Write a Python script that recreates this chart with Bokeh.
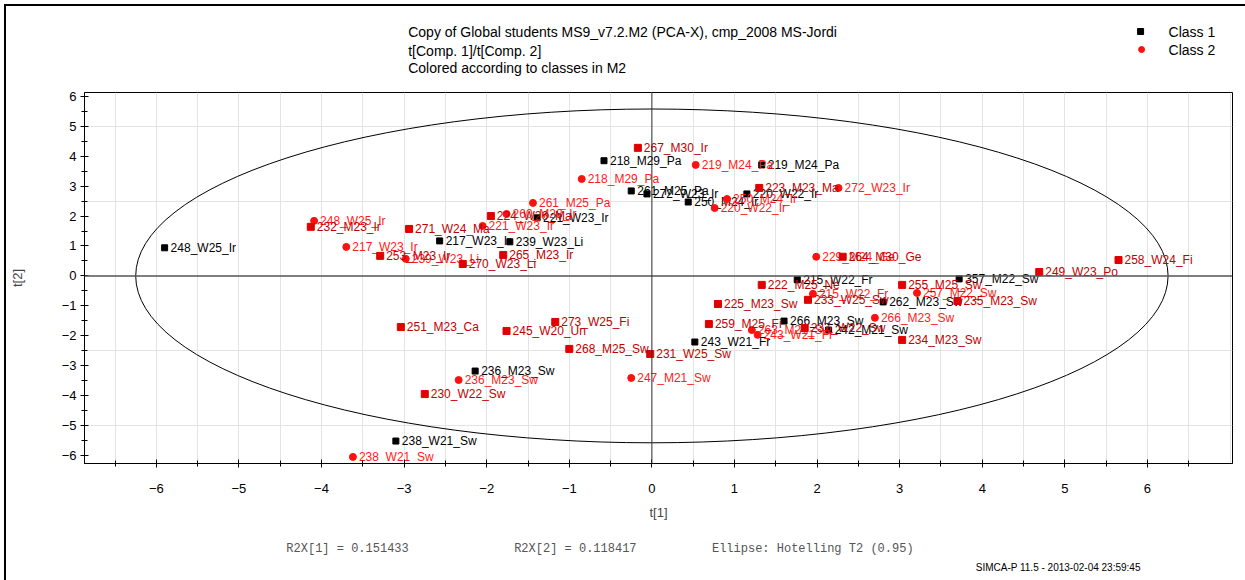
from bokeh.plotting import figure
from bokeh.layouts import column
from bokeh.models import (ColumnDataSource, Span, SingleIntervalTicker,
                          FixedTicker, Range1d)
from bokeh.core.properties import value
from bokeh.embed import file_html
from bokeh.resources import INLINE

# ---------------- data ----------------
names1 = ["248_W25_Ir", "218_M29_Pa", "219_M24_Pa", "261_M25_Pa", "272_W23_Ir",
          "250_M24_Ir", "220_W22_Ir", "221_W23_Ir", "217_W23_Ir", "239_W23_Li",
          "215_W22_Fr", "357_M22_Sw", "262_M23_Sw", "266_M23_Sw", "242_M21_Sw",
          "243_W21_Fr", "236_M23_Sw", "238_W21_Sw"]
x1 = [-5.90, -0.58, 1.33, -0.25, -0.06, 0.44, 1.15, -1.39, -2.57, -1.72,
      1.76, 3.72, 2.80, 1.60, 2.14, 0.52, -2.14, -3.10]
y1 = [0.94, 3.85, 3.71, 2.84, 2.74, 2.47, 2.74, 1.94, 1.17, 1.14,
      -0.13, -0.10, -0.87, -1.51, -1.81, -2.21, -3.18, -5.52]

names2 = ["248_W25_Ir", "217_W23_Ir", "239_W23_Li", "261_M25_Pa", "218_M29_Pa",
          "219_M24_Pa", "272_W23_Ir", "220_W22_Ir", "250_M24_Ir", "221_W23_Ir",
          "260_M28_Ir", "229_M24_Ge", "257_M22_Sw", "215_W22_Fr", "266_M23_Sw",
          "263_M21_Sw", "243_W21_Fr", "247_M21_Sw", "236_M23_Sw", "238_W21_Sw"]
x2 = [-4.09, -3.70, -2.98, -1.44, -0.85, 0.53, 2.26, 0.76, 0.91, -2.05,
      -1.76, 1.99, 3.21, 1.95, 2.70, 1.21, 1.28, -0.25, -2.34, -3.62]
y2 = [1.84, 0.97, 0.57, 2.44, 3.24, 3.71, 2.94, 2.27, 2.57, 1.67,
      2.07, 0.64, -0.57, -0.60, -1.40, -1.81, -1.97, -3.41, -3.48, -6.05]

names3 = ["232_M23_Ir", "271_W24_Ma", "253_M23_Ir", "270_W23_Li", "265_M23_Ir",
          "224_W26_Ma", "267_M30_Ir", "223_M23_Ma", "264_M30_Ge", "258_W24_Fi",
          "249_W23_Po", "255_M25_Sw", "235_M23_Sw", "222_M25_Ne", "233_W25_Sw",
          "225_M23_Sw", "259_M25_Fi", "237_W22_Sw", "234_M23_Sw", "251_M23_Ca",
          "245_W20_Un", "273_W25_Fi", "268_M25_Sw", "231_W25_Sw", "230_W22_Sw"]
x3 = [-4.13, -2.94, -3.29, -2.29, -1.80, -1.95, -0.17, 1.30, 2.31, 5.65,
      4.69, 3.03, 3.70, 1.33, 1.89, 0.80, 0.69, 1.85, 3.03, -3.04,
      -1.76, -1.17, -1.00, -0.02, -2.75]
y3 = [1.64, 1.57, 0.67, 0.40, 0.70, 2.00, 4.28, 2.94, 0.64, 0.53,
      0.13, -0.30, -0.84, -0.30, -0.80, -0.94, -1.61, -1.74, -2.14, -1.71,
      -1.84, -1.54, -2.44, -2.61, -3.95]

x_tick_values = [-6, -5, -4, -3, -2, -1, 0, 1, 2, 3, 4, 5, 6]

ellipse_a = 6.25   # Hotelling T2 (0.95) semi-axis along t[1]
ellipse_b = 5.58   # semi-axis along t[2]

title_lines = ["Copy of Global students MS9_v7.2.M2 (PCA-X), cmp_2008 MS-Jordi",
               "t[Comp. 1]/t[Comp. 2]",
               "Colored according to classes in M2"]
legend_labels = ["Class 1", "Class 2"]
footer_texts = ["R2X[1] = 0.151433", "R2X[2] = 0.118417", "Ellipse: Hotelling T2 (0.95)"]
stamp = "SIMCA-P 11.5 - 2013-02-04 23:59:45"

# ---------------- layout (page pixels) ----------------
W, H = 1245, 580
OX, OY = 6, 6                        # inside the outer border
XMIN, XMAX = -6.87, 7.03
YMIN, YMAX = -6.27, 6.13
FL, FR, FT, FB = 83, 1232, 92, 463   # frame edges
HDR_BOTTOM = 84
FOOT_TOP = 530
FONT = "Liberation Sans"


def blank_fig(top, bottom):
    # frames of a column are aligned with the main plot's frame (FL..FR)
    f = figure(width=W - OX, height=bottom - top, output_backend="svg",
               toolbar_location=None, x_range=Range1d(FL, FR),
               y_range=Range1d(bottom, top), x_axis_type=None, y_axis_type=None,
               min_border=0, min_border_left=FL - OX, min_border_right=W - FR)
    f.outline_line_color = None
    f.xgrid.visible = False
    f.ygrid.visible = False
    f.background_fill_color = "white"
    f.border_fill_color = "white"
    return f

# ---- header ----
hdr = blank_fig(OY, HDR_BOTTOM)
hdr.text(x=[407] * 3, y=[31, 50, 67], text=title_lines, text_baseline="middle",
         text_align="left", text_font=value(FONT), text_font_size="14px",
         text_color="black")
hdr.scatter(x=[1140], y=[31], marker="square", size=6, color="black")
hdr.scatter(x=[1141], y=[49], marker="circle", size=6, color="#ff1010")
hdr.text(x=[1168, 1168], y=[31, 49], text=legend_labels, text_baseline="middle",
         text_align="left", text_font=value(FONT), text_font_size="14px",
         text_color="black")

# ---- main plot ----
p = figure(width=W - OX, height=FOOT_TOP - HDR_BOTTOM, output_backend="svg",
           toolbar_location=None,
           x_range=Range1d(XMIN, XMAX), y_range=Range1d(YMIN, YMAX),
           min_border_left=FL - OX, min_border_right=W - FR,
           min_border_top=FT - HDR_BOTTOM, min_border_bottom=FOOT_TOP - FB)
p.outline_line_color = "black"
p.outline_line_width = 1
p.background_fill_color = "white"
p.border_fill_color = "white"

p.xaxis[0].ticker = FixedTicker(ticks=x_tick_values,
                                minor_ticks=[t + 0.5 for t in x_tick_values] + [-6.5])
p.yaxis[0].ticker = SingleIntervalTicker(interval=1, num_minor_ticks=2)
for ax in (p.xaxis[0], p.yaxis[0]):
    ax.major_tick_in = 4
    ax.major_tick_out = 4
    ax.minor_tick_in = 3
    ax.minor_tick_out = 3
    ax.axis_line_color = "black"
    ax.major_tick_line_color = "black"
    ax.minor_tick_line_color = "black"
    ax.major_label_text_font = FONT
    ax.major_label_text_font_size = "13px"
    ax.major_label_text_color = "black"
    ax.axis_label_text_font = FONT
    ax.axis_label_text_font_size = "13px"
    ax.axis_label_text_font_style = "normal"

p.xaxis.axis_label = "t[1]"
p.yaxis.axis_label = "t[2]"
p.xaxis.major_label_standoff = 16
p.xaxis.axis_label_standoff = 9
p.yaxis.major_label_standoff = 4
p.yaxis.axis_label_standoff = 34

p.xgrid.ticker = SingleIntervalTicker(interval=0.5)
p.ygrid.ticker = FixedTicker(ticks=[-5, -2.5, 2.5, 5])
p.xgrid.grid_line_color = "#e4e4e4"
p.ygrid.grid_line_color = "#e4e4e4"

p.add_layout(Span(location=0, dimension="width", line_color="#555555", line_width=1.5))
p.add_layout(Span(location=0, dimension="height", line_color="#333333", line_width=1))

p.ellipse(x=0, y=0, width=2 * ellipse_a, height=2 * ellipse_b,
          fill_color=None, line_color="black", line_width=1)

src1 = ColumnDataSource(dict(x=x1, y=y1, n=names1))
src2 = ColumnDataSource(dict(x=x2, y=y2, n=names2))
src3 = ColumnDataSource(dict(x=x3, y=y3, n=names3))

text_kw = dict(text="n", x_offset=6, text_align="left", text_baseline="middle",
               text_font=value(FONT), text_font_size="12px")

p.scatter("x", "y", source=src1, marker="square", size=6, color="black")
p.text("x", "y", source=src1, text_color="black", **text_kw)

p.scatter("x", "y", source=src2, marker="circle", size=7, color="#ff1010")
p.text("x", "y", source=src2, text_color="#ff1a1a", **text_kw)

p.scatter("x", "y", source=src3, marker="square", size=7, color="#e00000")
p.text("x", "y", source=src3, text_color="#c00000", **text_kw)

# ---- footer ----
ftr = blank_fig(FOOT_TOP, H)
ftr.text(x=[285, 513, 711], y=[548] * 3, text=footer_texts, text_baseline="middle",
         text_align="left", text_font=value("Liberation Mono"), text_font_size="12px",
         text_color="#555555")
ftr.text(x=[975], y=[567], text=[stamp], text_baseline="middle", text_align="left",
         text_font=value(FONT), text_font_size="10px", text_color="black")

layout = column(hdr, p, ftr, spacing=0, margin=(OY - 2, 0, 0, OX - 2),
                styles={"border-top": "2px solid black", "border-left": "2px solid black"})

open("out.html", "w").write(file_html(layout, INLINE))
